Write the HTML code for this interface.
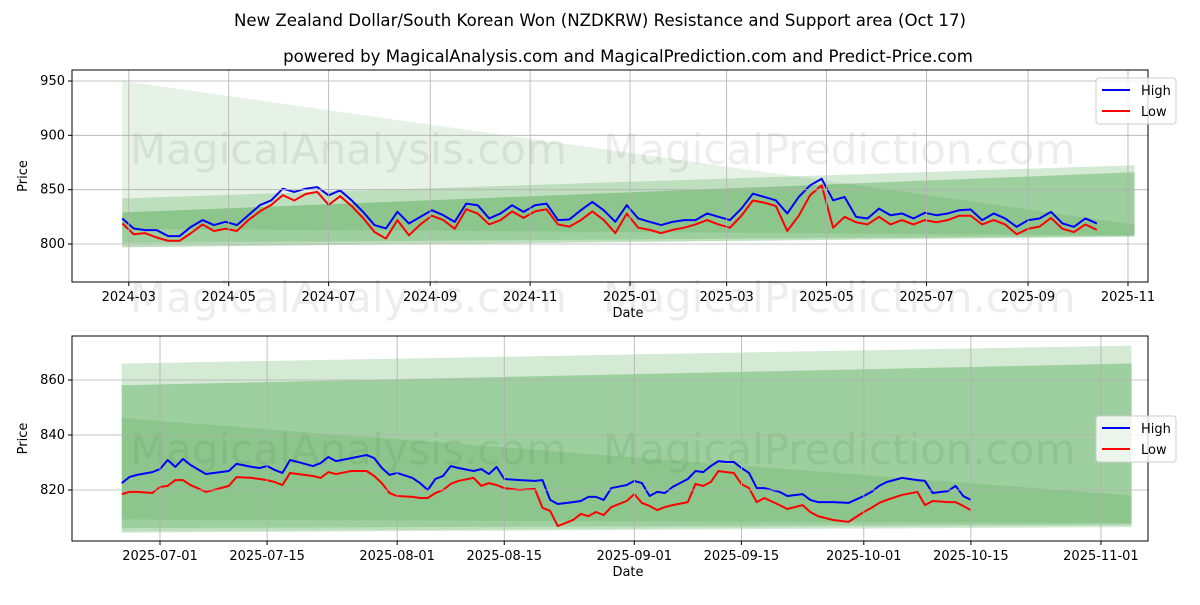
<!DOCTYPE html>
<html><head><meta charset="utf-8"><style>
body{margin:0;background:#fff;font-family:"Liberation Sans","DejaVu Sans",sans-serif}
svg text{font-family:"DejaVu Sans","Liberation Sans",sans-serif}
</style></head><body>
<svg id="s" width="1200" height="600" xmlns="http://www.w3.org/2000/svg">
<text x="600" y="26" text-anchor="middle" font-size="16.6">New Zealand Dollar/South Korean Won (NZDKRW) Resistance and Support area (Oct 17)</text>
<text x="628" y="62" text-anchor="middle" font-size="16.6">powered by MagicalAnalysis.com and MagicalPrediction.com and Predict-Price.com</text>
<g id="top"></g>
<g id="bot"></g>
</svg>
<script>
const topStart = '2024-02-26';
const topHigh = [823.5,814.3,812.8,812.8,807.3,807.3,815.8,822,817.4,820.4,817.4,826.5,835.7,840.2,850.9,847.9,850.9,852.4,844.8,849.4,840.2,829.6,817.4,814.3,829.6,818.9,825,831.1,826.5,820.4,837.2,835.7,823.5,828.1,835.7,829.6,835.7,837.2,822,822.6,831.1,838.7,831,820.4,835.7,823.5,820.4,817.4,820.4,822,822,828.1,825,822,832.6,846.3,843.3,840.2,828.1,843.3,854,860,840.2,843.3,825,823.5,832.6,826.5,828.1,823.5,828.7,826.5,828.1,831.1,831.7,822,828.1,823.5,815.8,822,823.5,829.6,818.9,815.8,823.5,818.9];
const topLow = [819,809,810,806,803,803,810,818,812,814,812,822,830,836,845,840,846,848,836,844,835,824,811,805,822,808,818,826,822,814,832,828,818,822,830,824,830,832,818,816,822,830,822,810,828,815,813,810,813,815,818,822,818,815,826,840,838,835,812,826,845,854,815,825,820,818,825,818,822,818,822,820,822,826,826,818,822,818,809,814,816,824,814,811,818,813];
const botDates = ['2025-06-26','2025-06-27','2025-06-28','2025-06-30','2025-07-01','2025-07-02','2025-07-03','2025-07-04','2025-07-05','2025-07-07','2025-07-08','2025-07-10','2025-07-11','2025-07-13','2025-07-14','2025-07-15','2025-07-16','2025-07-17','2025-07-18','2025-07-19','2025-07-21','2025-07-22','2025-07-23','2025-07-24','2025-07-26','2025-07-28','2025-07-29','2025-07-30','2025-07-31','2025-08-01','2025-08-03','2025-08-04','2025-08-05','2025-08-06','2025-08-07','2025-08-08','2025-08-09','2025-08-11','2025-08-12','2025-08-13','2025-08-14','2025-08-15','2025-08-17','2025-08-19','2025-08-20','2025-08-21','2025-08-22','2025-08-24','2025-08-25','2025-08-26','2025-08-27','2025-08-28','2025-08-29','2025-08-31','2025-09-01','2025-09-02','2025-09-03','2025-09-04','2025-09-05','2025-09-06','2025-09-08','2025-09-09','2025-09-10','2025-09-11','2025-09-12','2025-09-13','2025-09-14','2025-09-15','2025-09-16','2025-09-17','2025-09-18','2025-09-20','2025-09-21','2025-09-23','2025-09-24','2025-09-25','2025-09-27','2025-09-29','2025-10-01','2025-10-02','2025-10-03','2025-10-04','2025-10-06','2025-10-08','2025-10-09','2025-10-10','2025-10-12','2025-10-13','2025-10-14','2025-10-15'];
const botHigh = [822.5,824.7,825.5,826.5,827.6,830.9,828.4,831.3,829.1,825.8,826.2,826.9,829.5,828.4,828,828.7,827.3,826.2,830.9,830.2,828.7,829.8,832,830.5,831.6,832.7,831.6,828,825.5,826.2,824.4,822.5,820,824,825.1,828.7,828,826.9,827.6,825.8,828.4,824,823.6,823.3,823.6,816.4,814.9,815.6,816,817.5,817.5,816.4,820.7,821.8,823.3,822.5,817.8,819.3,818.9,821.1,824,826.9,826.5,828.7,830.5,830.2,830.2,828,826.2,820.7,820.7,819.3,817.8,818.5,816.4,815.6,815.6,815.3,817.8,819.3,821.5,822.9,824.4,823.6,823.3,818.9,819.6,821.5,817.8,816.4];
const botLow = [818.5,819.3,819.3,818.9,821.1,821.5,823.6,823.6,821.8,819.3,820,821.5,824.7,824.4,824,823.6,822.9,821.8,826.2,825.8,825.1,824.4,826.5,825.8,826.9,826.9,825.1,822.5,818.9,817.8,817.5,817.1,817.1,818.9,820,822.2,823.3,824.4,821.5,822.5,821.8,820.7,820,820.4,813.5,812.4,806.9,809.1,811.3,810.5,812,810.9,813.8,816,818.5,815.3,814.2,812.7,813.8,814.5,815.6,822.2,821.5,822.9,826.9,826.5,826.2,822.2,820.7,815.6,817.1,814.5,813.1,814.5,812,810.5,809.1,808.4,812,813.5,815.3,816.4,818.2,819.3,814.5,816,815.6,815.6,814.2,812.7];
const bandStart = '2024-02-26', bandEnd = '2025-11-05';
const bandUpperStart = [950, 842, 829, 829];
const bandUpperEnd = [818, 872.5, 866, 866];
const bandLowerStart = [797, 797, 801, 814];
const bandLowerEnd = [807, 806.5, 807.5, 808];
const bandAlpha = [0.1, 0.17, 0.17, 0.1];
const topYTicks = [800, 850, 900, 950];
const topXTicks = ['2024-03-01','2024-05-01','2024-07-01','2024-09-01','2024-11-01','2025-01-01','2025-03-01','2025-05-01','2025-07-01','2025-09-01','2025-11-01'];
const topXLabels = ['2024-03','2024-05','2024-07','2024-09','2024-11','2025-01','2025-03','2025-05','2025-07','2025-09','2025-11'];
const botYTicks = [820, 840, 860];
const botXTicks = ['2025-07-01','2025-07-15','2025-08-01','2025-08-15','2025-09-01','2025-09-15','2025-10-01','2025-10-15','2025-11-01'];

const NS='http://www.w3.org/2000/svg';
const D=s=>Date.parse(s+'T00:00:00Z')/864e5;
function mk(p,t,a){const e=document.createElementNS(NS,t);for(const k in a)e.setAttribute(k,a[k]);p.appendChild(e);return e;}

function panel(g,cfg){
  const {L,R,T,B,x,y,name}=cfg;
  mk(g,'defs',{}).innerHTML=`<clipPath id="c${name}"><rect x="${L}" y="${T}" width="${R-L}" height="${B-T}"/></clipPath>`;
  for(const [tx,ty,txt] of cfg.wm){const w=mk(g,'text',{x:tx,y:ty,'font-size':42,fill:'rgba(140,140,140,0.16)'});w.textContent=txt;
    
    }
  const clip=mk(g,'g',{'clip-path':`url(#c${name})`});
  const s=D(bandStart),e=D(bandEnd),x0=cfg.bandX0,f=(x0-s)/(e-s);
  for(let i=0;i<bandUpperStart.length;i++){
    const u0=bandUpperStart[i]+(bandUpperEnd[i]-bandUpperStart[i])*f,l0=bandLowerStart[i]+(bandLowerEnd[i]-bandLowerStart[i])*f;
    const p=mk(clip,'polygon',{points:`${x(x0)},${y(u0)} ${x(e)},${y(bandUpperEnd[i])} ${x(e)},${y(bandLowerEnd[i])} ${x(x0)},${y(l0)}`,fill:'green','fill-opacity':bandAlpha[i]});
    
    
  }
  cfg.yt.forEach(v=>{const yy=y(v);mk(g,'line',{x1:L,x2:R,y1:yy,y2:yy,stroke:'#b0b0b0','stroke-width':0.8});
    mk(g,'line',{x1:L-4,x2:L,y1:yy,y2:yy,stroke:'#000'});
    const t=mk(g,'text',{x:L-7,y:yy+4,'text-anchor':'end','font-size':13});t.textContent=v;
    
    });
  cfg.xt.forEach((d,i)=>{const xx=x(D(d));mk(g,'line',{x1:xx,x2:xx,y1:T,y2:B,stroke:'#b0b0b0','stroke-width':0.8});
    mk(g,'line',{x1:xx,x2:xx,y1:B,y2:B+4,stroke:'#000'});
    const t=mk(g,'text',{x:xx,y:B+19,'text-anchor':'middle','font-size':13});t.textContent=cfg.xl[i];
    
    });
  const line=(vals,dates,col,nm)=>{const p=mk(clip,'polyline',{points:vals.map((v,i)=>x(dates[i])+','+y(v)).join(' '),fill:'none',stroke:col,'stroke-width':2,'stroke-linejoin':'round'});
    
    };
  line(cfg.hi,cfg.dates,'#0000ff','high-line');
  line(cfg.lo,cfg.dates,'#ff0000','low-line');
  mk(g,'rect',{x:L,y:T,width:R-L,height:B-T,fill:'none',stroke:'#000','stroke-width':1});
  const yl=mk(g,'text',{x:27,y:(T+B)/2,'text-anchor':'middle','font-size':13,transform:`rotate(-90 27 ${(T+B)/2})`});yl.textContent='Price';
  
  
  const xl=mk(g,'text',{x:628,y:B+35,'text-anchor':'middle','font-size':13});xl.textContent='Date';
  
  
  const lg=mk(g,'g',{});
  
  
  const ly=cfg.legY;
  mk(lg,'rect',{x:1096,y:ly,width:80,height:46,rx:3,fill:'#fff','fill-opacity':0.8,stroke:'#ccc'});
  [['High','#0000ff'],['Low','#ff0000']].forEach(([n,c],i)=>{const yy=ly+12+i*21;
    mk(lg,'line',{x1:1102,x2:1130,y1:yy,y2:yy,stroke:c,'stroke-width':2});
    const t=mk(lg,'text',{x:1141,y:yy+5,'font-size':13});t.textContent=n;
    
    });
}
const tS=D('2024-03-01');
const topDates=topHigh.map((_,i)=>D(topStart)+7*i);
panel(document.getElementById('top'),{name:'t',L:72,R:1148,T:70,B:282,
  x:d=>128.8+(d-tS)*1.638, y:v=>244-(v-800)*1.0867,
  yt:topYTicks,xt:topXTicks,xl:topXLabels,hi:topHigh,lo:topLow,dates:topDates,
  bandX0:D(bandStart),legY:78,
  wm:[[130,164,'MagicalAnalysis.com'],[603,164,'MagicalPrediction.com'],[130,312,'MagicalAnalysis.com'],[603,312,'MagicalPrediction.com']]});
const bS=D('2025-07-01');
panel(document.getElementById('bot'),{name:'b',L:72,R:1148,T:336,B:541,
  x:d=>160+(d-bS)*7.65, y:v=>490-(v-820)*2.75,
  yt:botYTicks,xt:botXTicks,xl:botXTicks,hi:botHigh,lo:botLow,dates:botDates.map(D),
  bandX0:D('2025-06-26'),legY:416,
  wm:[[130,464,'MagicalAnalysis.com'],[603,464,'MagicalPrediction.com']]});
</script>
</body></html>
